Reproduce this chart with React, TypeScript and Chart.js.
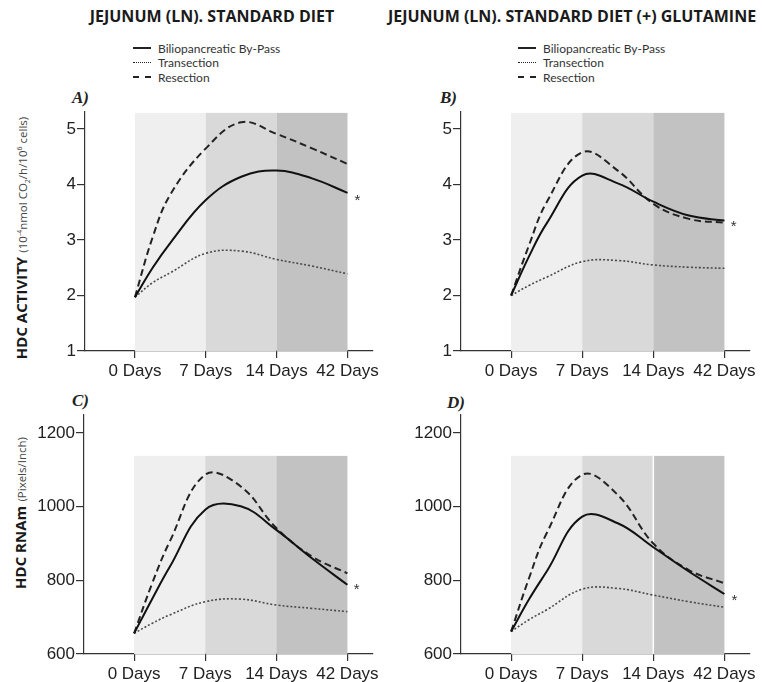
import React, { useEffect, useRef } from 'react';
import { Chart, registerables } from 'chart.js';
Chart.register(...registerables);

// ---------- data ----------
const xPositions = [0, 0.25, 0.5, 1, 1.5, 2, 2.5, 3];
const xTickValues = [0, 1, 2, 3];
const xTickLabels = ['0 Days', '7 Days', '14 Days', '42 Days'];
const seriesNames = ['Biliopancreatic By-Pass', 'Transection', 'Resection'];

const activityTicks = [1, 2, 3, 4, 5];
const rnaTicks = [600, 800, 1000, 1200];

// Panel A: HDC activity, standard diet
const aBypass = [1.97, 2.5, 2.95, 3.72, 4.14, 4.25, 4.11, 3.85];
const aTransection = [1.97, 2.23, 2.41, 2.76, 2.8, 2.65, 2.53, 2.39];
const aResection = [1.97, 3.05, 3.82, 4.65, 5.12, 4.91, 4.65, 4.37];
const aStar = { x: 3.14, y: 3.79 };

// Panel B: HDC activity, standard diet + glutamine
const bBypass = [2.0, 2.7, 3.3, 4.16, 4.02, 3.69, 3.44, 3.35];
const bTransection = [2.0, 2.18, 2.33, 2.61, 2.63, 2.55, 2.51, 2.49];
const bResection = [2.0, 2.9, 3.68, 4.58, 4.25, 3.65, 3.38, 3.31];
const bStar = { x: 3.13, y: 3.32 };

// Panel C: HDC RNAm, standard diet
const cBypass = [656, 748, 836, 992, 1001, 937, 860, 788];
const cTransection = [656, 683, 706, 742, 749, 733, 724, 715];
const cResection = [656, 790, 905, 1087, 1055, 942, 865, 819];
const cStar = { x: 3.13, y: 787 };

// Panel D: HDC RNAm, standard diet + glutamine
const dBypass = [661, 748, 824, 973, 955, 890, 824, 763];
const dTransection = [661, 693, 720, 776, 778, 760, 742, 727];
const dResection = [661, 805, 928, 1087, 1032, 900, 828, 792];
const dStar = { x: 3.14, y: 755 };

// ---------- styles ----------
const shadeColors = ['#efefef', '#d9d9d9', '#c2c2c2'];
const tickFont = { family: '"Liberation Sans", Arial, sans-serif', size: 17 };
const axisColor = '#333';

type PanelProps = {
  left: number; top: number; width: number; height: number;
  xAxisHeight: number;
  yMin: number; yMax: number; yTicks: number[];
  shadeTop: number;
  bypass: number[]; transection: number[]; resection: number[];
  star: { x: number; y: number };
  whiteDivider?: boolean;
};

function pts(vals: number[]) {
  return vals.map((v, i) => ({ x: xPositions[i], y: v }));
}

function Panel(p: PanelProps) {
  const ref = useRef<HTMLCanvasElement | null>(null);
  useEffect(() => {
    if (!ref.current) return;
    const shading = {
      id: 'shading',
      beforeDatasetsDraw(chart: any) {
        const { ctx, chartArea, scales } = chart;
        const xs = scales.x, ys = scales.y;
        const yTop = ys.getPixelForValue(p.shadeTop);
        ctx.save();
        for (let i = 0; i < 3; i++) {
          const x0 = xs.getPixelForValue(xTickValues[i]);
          const x1 = xs.getPixelForValue(xTickValues[i + 1]);
          ctx.fillStyle = shadeColors[i];
          ctx.fillRect(x0, yTop, x1 - x0, chartArea.bottom - yTop);
        }
        if (p.whiteDivider) {
          const xd = xs.getPixelForValue(xTickValues[2]);
          ctx.strokeStyle = '#ffffff';
          ctx.lineWidth = 1.5;
          ctx.beginPath();
          ctx.moveTo(xd, yTop);
          ctx.lineTo(xd, chartArea.bottom);
          ctx.stroke();
        }
        ctx.restore();
      },
      afterDatasetsDraw(chart: any) {
        const { ctx, scales } = chart;
        const size = 15;
        ctx.save();
        ctx.fillStyle = '#333';
        ctx.font = `${size}px "Liberation Sans", Arial, sans-serif`;
        ctx.textAlign = 'center';
        ctx.textBaseline = 'alphabetic';
        ctx.fillText('*', scales.x.getPixelForValue(p.star.x), scales.y.getPixelForValue(p.star.y) + size * 0.57);
        ctx.restore();
      },
    };
    const line = { pointRadius: 0, tension: 0.4, fill: false };
    const chart = new Chart(ref.current, {
      type: 'line',
      data: {
        datasets: [
          { ...line, label: seriesNames[0], data: pts(p.bypass), borderColor: '#111', borderWidth: 2 },
          { ...line, label: seriesNames[1], data: pts(p.transection), borderColor: '#4a4a4a', borderWidth: 1.6, borderDash: [2, 2] },
          { ...line, label: seriesNames[2], data: pts(p.resection), borderColor: '#222', borderWidth: 2, borderDash: [7, 4] },
        ],
      },
      options: {
        animation: false,
        responsive: false,
        maintainAspectRatio: false,
        layout: { padding: { top: 12, right: 12, left: 0, bottom: 0 } },
        plugins: { legend: { display: false }, tooltip: { enabled: false } },
        scales: {
          x: {
            type: 'linear', min: -0.705, max: 3.36,
            afterBuildTicks: (s: any) => { s.ticks = xTickValues.map((v) => ({ value: v })); },
            afterFit: (s: any) => { s.height = p.xAxisHeight; },
            ticks: {
              callback: (_v: any, i: number) => xTickLabels[i],
              font: tickFont, color: '#222', padding: 3, maxRotation: 0, autoSkip: false,
            },
            grid: { drawOnChartArea: false, drawTicks: true, tickLength: 7, color: axisColor, lineWidth: 1.2 },
            border: { display: true, color: axisColor, width: 1.2 },
          },
          y: {
            type: 'linear', min: p.yMin, max: p.yMax,
            afterBuildTicks: (s: any) => { s.ticks = p.yTicks.map((v) => ({ value: v })); },
            afterFit: (s: any) => { s.width = 50; },
            ticks: { font: tickFont, color: '#222', padding: 1, callback: (v: any) => String(v) },
            grid: { drawOnChartArea: false, drawTicks: true, tickLength: 8, color: axisColor, lineWidth: 1.2 },
            border: { display: true, color: axisColor, width: 1.2 },
          },
        },
      },
      plugins: [shading],
    } as any);
    return () => chart.destroy();
  }, []);
  return (
    <canvas
      ref={ref}
      width={p.width}
      height={p.height}
      style={{ position: 'absolute', left: p.left, top: p.top, width: p.width, height: p.height }}
    />
  );
}

const titleStyle: React.CSSProperties = {
  position: 'absolute', top: 5, textAlign: 'center', fontFamily: '"Open Sans", sans-serif',
  fontWeight: 700, fontSize: 16, color: '#1a1a1a', whiteSpace: 'nowrap',
};

function Legend({ left }: { left: number }) {
  const dashes = ['solid', 'dotted', 'dashed'];
  return (
    <div style={{ position: 'absolute', left, top: 41 }}>
      {seriesNames.map((n, i) => (
        <div key={n} style={{ height: 14.5, display: 'flex', alignItems: 'center', fontFamily: 'Lato, sans-serif', fontSize: 12, color: '#333' }}>
          <span style={{ display: 'inline-block', width: 18, borderTop: `${i === 1 ? 1 : 2}px ${dashes[i]} #222`, marginRight: 7 }} />
          {n}
        </div>
      ))}
    </div>
  );
}

const panelLabel: React.CSSProperties = {
  position: 'absolute', fontFamily: '"Liberation Serif", serif', fontStyle: 'italic', fontWeight: 700,
  fontSize: 17, color: '#222',
};

function YTitle({ cx, cy, bold, children }: { cx: number; cy: number; bold: string; children: React.ReactNode }) {
  return (
    <div style={{
      position: 'absolute', left: cx - 150, top: cy - 10, width: 300, height: 20, lineHeight: '20px',
      textAlign: 'center', transform: 'rotate(-90deg)', whiteSpace: 'nowrap', fontFamily: '"Open Sans", sans-serif',
    }}>
      <span style={{ fontWeight: 700, fontSize: 15, color: '#1a1a1a' }}>{bold}</span>{' '}
      <span style={{ fontSize: 11.5, color: '#444' }}>{children}</span>
    </div>
  );
}

export default function App() {
  return (
    <div style={{ position: 'absolute', left: 0, top: 0, width: 762, height: 682, overflow: 'hidden', background: '#fff' }}>
      <div style={{ ...titleStyle, left: 0, width: 424 }}>JEJUNUM (LN). STANDARD DIET</div>
      <div style={{ ...titleStyle, left: 372, width: 400 }}>JEJUNUM (LN). STANDARD DIET (+) GLUTAMINE</div>
      <Legend left={133} />
      <Legend left={518} />
      <div style={{ ...panelLabel, left: 72, top: 88 }}>A)</div>
      <div style={{ ...panelLabel, left: 440, top: 88 }}>B)</div>
      <div style={{ ...panelLabel, left: 72, top: 391 }}>C)</div>
      <div style={{ ...panelLabel, left: 447, top: 393 }}>D)</div>
      <YTitle cx={20} cy={238} bold="HDC ACTIVITY">
        (10<sup style={{ fontSize: 7 }}>-4</sup>nmol CO<sub style={{ fontSize: 7 }}>2</sub>/h/10<sup style={{ fontSize: 7 }}>6</sup> cells)
      </YTitle>
      <YTitle cx={20} cy={513} bold="HDC RNAm">(Pixels/Inch)</YTitle>
      <Panel left={35} top={100} width={350} height={290} xAxisHeight={39} yMin={1} yMax={5.306} yTicks={activityTicks}
        shadeTop={5.29} bypass={aBypass} transection={aTransection} resection={aResection} star={aStar} />
      <Panel left={411} top={100} width={351} height={290} xAxisHeight={39} yMin={1} yMax={5.306} yTicks={activityTicks}
        shadeTop={5.29} bypass={bBypass} transection={bTransection} resection={bResection} star={bStar} />
      <Panel left={34} top={403} width={351} height={279} xAxisHeight={28} yMin={600} yMax={1249} yTicks={rnaTicks}
        shadeTop={1138} bypass={cBypass} transection={cTransection} resection={cResection} star={cStar} />
      <Panel left={411} top={403} width={351} height={279} xAxisHeight={28} yMin={600} yMax={1249} yTicks={rnaTicks}
        shadeTop={1138} bypass={dBypass} transection={dTransection} resection={dResection} star={dStar} whiteDivider />
    </div>
  );
}
